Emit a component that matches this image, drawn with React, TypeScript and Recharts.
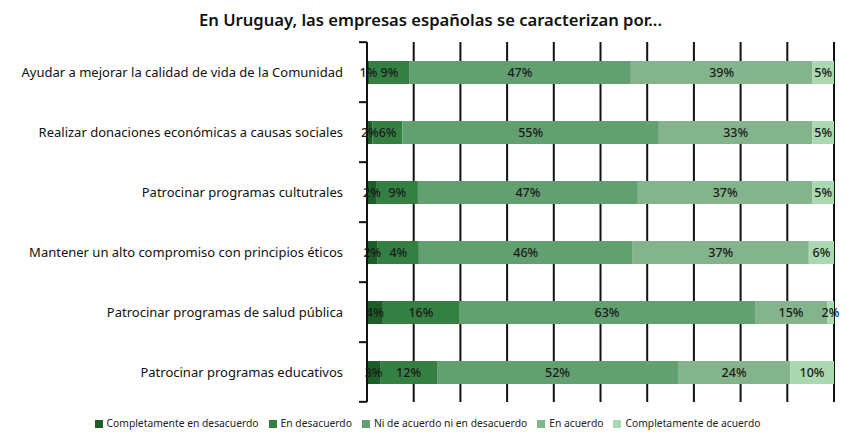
import React from "react";
import { BarChart, Bar, XAxis, YAxis, CartesianGrid, Legend, LabelList } from "recharts";

const categories = [
  "Ayudar a mejorar la calidad de vida de la Comunidad",
  "Realizar donaciones económicas a causas sociales",
  "Patrocinar programas cultutrales",
  "Mantener un alto compromiso con principios éticos",
  "Patrocinar programas de salud pública",
  "Patrocinar programas educativos",
];

const completamenteDesacuerdo = [0.6, 1.2, 2.1, 2.3, 3.4, 2.8];
const enDesacuerdo = [8.4, 6.4, 8.8, 8.8, 16.3, 12.2];
const niNi = [47.5, 54.9, 47.1, 45.8, 63.4, 51.6];
const enAcuerdo = [38.9, 32.9, 37.4, 37.7, 15.4, 24.0];
const completamenteAcuerdo = [4.6, 4.6, 4.6, 5.4, 1.5, 9.4];

const completamenteDesacuerdoLabels = ["1%", "2%", "2%", "2%", "4%", "3%"];
const enDesacuerdoLabels = ["9%", "6%", "9%", "4%", "16%", "12%"];
const niNiLabels = ["47%", "55%", "47%", "46%", "63%", "52%"];
const enAcuerdoLabels = ["39%", "33%", "37%", "37%", "15%", "24%"];
const completamenteAcuerdoLabels = ["5%", "5%", "5%", "6%", "2%", "10%"];

const xTicks = [0, 10, 20, 30, 40, 50, 60, 70, 80, 90, 100];

const series = [
  { key: "s1", name: "Completamente en desacuerdo", values: completamenteDesacuerdo, labels: completamenteDesacuerdoLabels, color: "#1b5e28" },
  { key: "s2", name: "En desacuerdo", values: enDesacuerdo, labels: enDesacuerdoLabels, color: "#348042" },
  { key: "s3", name: "Ni de acuerdo ni en desacuerdo", values: niNi, labels: niNiLabels, color: "#62a071" },
  { key: "s4", name: "En acuerdo", values: enAcuerdo, labels: enAcuerdoLabels, color: "#84b48c" },
  { key: "s5", name: "Completamente de acuerdo", values: completamenteAcuerdo, labels: completamenteAcuerdoLabels, color: "#a9d8b1" },
];

const data = categories.map((c, i) => {
  const row: any = { name: c };
  series.forEach((s) => {
    row[s.key] = s.values[i];
    row[s.key + "L"] = s.labels[i];
  });
  return row;
});

const W = 847;
const H = 435;
const LEGEND_H = 16;
const MARGIN = { top: 42, right: 13, bottom: 35 - LEGEND_H, left: 0 };
const Y_WIDTH = 367;
const FONT = "'Noto Sans', sans-serif";

const band = (H - MARGIN.top - 35) / categories.length;
const axisX = MARGIN.left + Y_WIDTH;

const YTick = (props: any) => {
  const { y, payload, index } = props;
  return (
    <g>
      <text x={axisX - 24} y={y} dy={4.5} textAnchor="end" fontSize={13} fill="#111" fontFamily={FONT}>
        {payload.value}
      </text>
      <line x1={axisX - 8} x2={axisX} y1={y - band / 2} y2={y - band / 2} stroke="#111" strokeWidth={2} />
      {index === categories.length - 1 ? (
        <line x1={axisX - 8} x2={axisX} y1={y + band / 2} y2={y + band / 2} stroke="#111" strokeWidth={2} />
      ) : null}
    </g>
  );
};

export default function App() {
  return (
    <div style={{ position: "absolute", left: 0, top: 0, width: W, height: H, background: "#fff" }}>
      <div
        style={{
          position: "absolute",
          left: 0,
          top: 8,
          width: W,
          textAlign: "center",
          fontFamily: FONT,
          fontSize: 16.6,
          fontWeight: 600,
          color: "#111",
          paddingLeft: 14,
          boxSizing: "border-box",
        }}
      >
        En Uruguay, las empresas españolas se caracterizan por...
      </div>
      <BarChart width={W} height={H} data={data} layout="vertical" margin={MARGIN} barSize={23}>
        <CartesianGrid horizontal={false} vertical={true} stroke="#111" strokeWidth={2} />
        <XAxis type="number" domain={[0, 100]} ticks={xTicks} hide />
        <YAxis
          type="category"
          dataKey="name"
          width={Y_WIDTH}
          axisLine={{ stroke: "#111", strokeWidth: 2 }}
          tickLine={false}
          tick={<YTick />}
          interval={0}
        />
        <Legend
          verticalAlign="bottom"
          align="center"
          iconType="square"
          iconSize={8}
          itemSorter="dataKey"
          wrapperStyle={{
            fontFamily: FONT,
            fontSize: 10.3,
            color: "#222",
            position: "absolute",
            top: 416,
            left: 0,
            width: W,
            paddingLeft: 18,
            boxSizing: "border-box",
          }}
          formatter={(v: any) => <span style={{ color: "#222" }}>{v}</span>}
        />
        {series.map((s) => (
          <Bar key={s.key} dataKey={s.key} name={s.name} stackId="a" fill={s.color} isAnimationActive={false}>
            <LabelList dataKey={s.key + "L"} position="center" fill="#1a1a1a" fontSize={12.5} fontFamily={FONT} fontWeight={500} />
          </Bar>
        ))}
      </BarChart>
    </div>
  );
}
